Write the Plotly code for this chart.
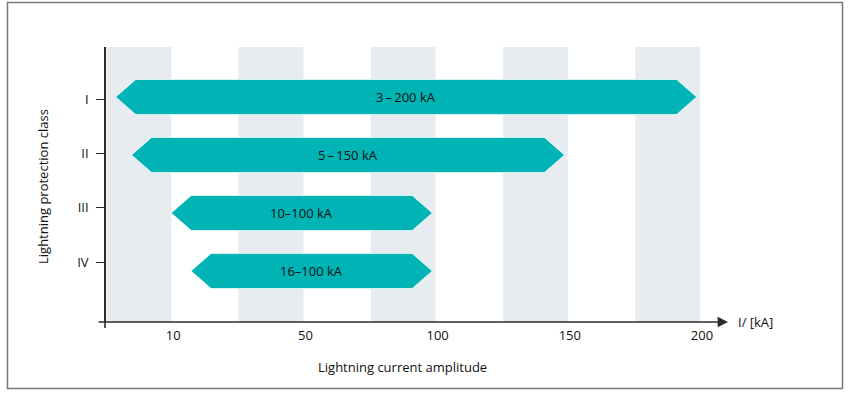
import numpy as np
import plotly.graph_objects as go

# ---- data ----
classes = ["I", "II", "III", "IV"]
low_kA = [3, 5, 10, 16]
high_kA = [200, 150, 100, 100]
bar_labels = ["3\u2009\u2013\u2009200 kA", "5\u2009\u2013\u2009150 kA", "10\u2013100 kA", "16\u2013100 kA"]
tick_values_kA = [10, 50, 100, 150, 200]
tick_labels = ["10", "50", "100", "150", "200"]

# schematic (non-linear) axis: ticks equally spaced at positions 1..5
anchor_kA = [0] + tick_values_kA
anchor_pos = [0.4, 1, 2, 3, 4, 5]


def kA_to_pos(v):
    return float(np.interp(v, anchor_kA, anchor_pos))


TEAL = "#00b3b5"
BAND = "#e6ecf0"
AXC = "#2b2b2b"
TXT = "#111111"
FONT = "Open Sans"
FS = 13

# pixel geometry of plot area
L, R, T, B = 97, 728, 47, 322
W, H = 850, 395
xr = [1 + (L - 171.2) / 132.2, 1 + (R - 171.2) / 132.2]
yr = [(B - 97) / 58.0, (T - 97) / 58.0]  # reversed


def px_x(px):
    return (px - L) / (R - L)


def px_y(py):
    return (B - py) / (B - T)


fig = go.Figure()

shapes = []
# background bands
for k in range(1, 6):
    shapes.append(dict(type="rect", xref="x", yref="paper", x0=k - 0.49, x1=k,
                       y0=0, y1=1, fillcolor=BAND, line=dict(width=0), layer="below"))

# hexagonal arrows
half_h = 0.302
tip = 0.152
inset = 0.025
for i, (lo, hi, lab) in enumerate(zip(low_kA, high_kA, bar_labels)):
    x0 = kA_to_pos(lo)
    x1 = kA_to_pos(hi) - inset
    xs = [x0, x0 + tip, x1 - tip, x1, x1 - tip, x0 + tip, x0]
    ys = [i, i - half_h, i - half_h, i, i + half_h, i + half_h, i]
    fig.add_trace(go.Scatter(x=xs, y=ys, mode="lines", fill="toself",
                             fillcolor=TEAL, line=dict(color="#ffffff", width=0.7),
                             hoverinfo="skip", showlegend=False))
    fig.add_annotation(x=(x0 + x1) / 2, y=i, text=lab, showarrow=False,
                       font=dict(family=FONT, size=FS, color=TXT))

# y-axis extension below x-axis
shapes.append(dict(type="line", xref="paper", yref="paper",
                   x0=px_x(105), x1=px_x(105), y0=px_y(B), y1=px_y(328),
                   line=dict(color=AXC, width=1.6)))
# frame
shapes.append(dict(type="rect", xref="paper", yref="paper",
                   x0=px_x(7.5), x1=px_x(842.5), y0=px_y(388.5), y1=px_y(2.5),
                   line=dict(color="#777777", width=1.5), fillcolor="rgba(0,0,0,0)"))

# x-axis arrow
fig.add_annotation(x=1.0, y=0, xref="paper", yref="paper", ax=-(R - L), ay=0,
                   axref="pixel", ayref="pixel", showarrow=True, arrowhead=2,
                   arrowsize=1.3, arrowwidth=1.6, arrowcolor=AXC, text="")
fig.add_annotation(x=px_x(736), y=px_y(322), xref="paper", yref="paper",
                   text="I/ [kA]", showarrow=False, xanchor="left", yanchor="middle",
                   font=dict(family=FONT, size=FS, color=TXT))
# axis titles
fig.add_annotation(x=px_x(402), y=px_y(367), xref="paper", yref="paper",
                   text="Lightning current amplitude", showarrow=False,
                   xanchor="center", yanchor="middle",
                   font=dict(family=FONT, size=FS, color=TXT))
fig.add_annotation(x=px_x(43), y=px_y(187), xref="paper", yref="paper",
                   text="Lightning protection class", showarrow=False, textangle=-90,
                   xanchor="center", yanchor="middle",
                   font=dict(family=FONT, size=FS, color=TXT))

fig.update_layout(
    width=W, height=H,
    margin=dict(l=L, r=W - R, t=T, b=H - B, pad=0),
    paper_bgcolor="white", plot_bgcolor="white",
    shapes=shapes,
    showlegend=False,
    xaxis=dict(range=xr, tickvals=list(range(1, 6)), ticktext=tick_labels,
               showgrid=False, zeroline=False, showline=False, ticks="",
               ticklabelshift=2, ticklabelstandoff=4,
               tickfont=dict(family=FONT, size=FS, color=TXT),
               fixedrange=True),
    yaxis=dict(range=yr, tickvals=[0.035 + 0.937 * i for i in range(4)], ticktext=classes,
               showgrid=False, zeroline=False, showline=True, linecolor=AXC, linewidth=1.6,
               ticks="outside", ticklen=8, tickwidth=1.4, tickcolor=AXC,
               anchor="free", position=px_x(105), ticklabelstandoff=5,
               tickfont=dict(family=FONT, size=FS, color=TXT), fixedrange=True),
)

fig.write_html("out.html", config={"displayModeBar": False},
               post_script="document.body.style.margin='0';document.body.style.overflow='hidden';")
